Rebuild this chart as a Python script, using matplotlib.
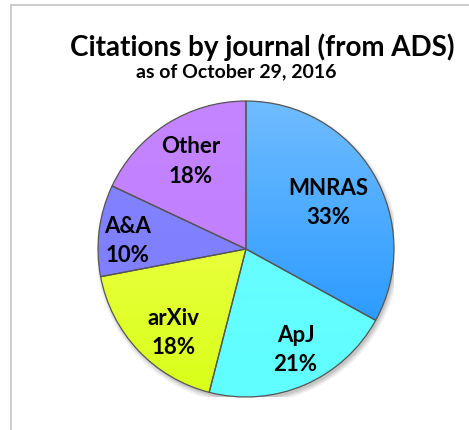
# Pie chart of citations by journal (from ADS), with soft vertical gradients
# on the wedges, like the original slide.

import matplotlib.pyplot as plt
import numpy as np
from matplotlib.colors import LinearSegmentedColormap
from matplotlib.lines import Line2D
from matplotlib.patches import Circle

# Data, clockwise from 12 o'clock.
journals = ["MNRAS", "ApJ", "arXiv", "A&A", "Other"]
shares = [33, 21, 18, 10, 18]

# Top / bottom colour of each wedge.
colors_top = ["#70bcff", "#6efcff", "#f8ff60", "#8585ff", "#c585ff"]
colors_bottom = ["#1590ff", "#60ffff", "#d8ff18", "#7c7cff", "#bc7cff"]

# Label placement: distance from the centre (fraction of radius) and a small
# angular nudge (degrees) away from the wedge's middle.
label_dist = [0.64, 0.76, 0.75, 0.80, 0.70]
label_nudge = [-1.4, 2.7, 6.0, 3.3, 0.0]

FONT = "Lato"


def main() -> None:
    fig_w_px, fig_h_px = 469, 430
    dpi = 100
    fig = plt.figure(figsize=(fig_w_px / dpi, fig_h_px / dpi), dpi=dpi)
    fig.patch.set_facecolor("white")

    # Thin grey frame at the top and the left.
    frame_kw = dict(color="#c8c8c8", linewidth=1.3, transform=fig.transFigure)
    y_top = 1 - 4.5 / fig_h_px
    x_left = 10.5 / fig_w_px
    fig.add_artist(Line2D([x_left, 1], [y_top, y_top], **frame_kw))
    fig.add_artist(Line2D([x_left, x_left], [0, y_top], **frame_kw))

    # Titles.
    fig.text(
        262 / fig_w_px, 1 - 56 / fig_h_px, "Citations by journal (from ADS)",
        ha="center", va="baseline", fontsize=20, fontweight="bold",
        family=FONT, color="black",
    )
    fig.text(
        236 / fig_w_px, 1 - 77 / fig_h_px, "as of October 29, 2016",
        ha="center", va="baseline", fontsize=14, fontweight="bold",
        family=FONT, color="black",
    )

    # Pie axes: centre at (246, 249) px, radius 148 px.
    cx, cy, r = 246, 430 - 249, 148
    ax = fig.add_axes(
        [(cx - r) / fig_w_px, (cy - r) / fig_h_px, 2 * r / fig_w_px, 2 * r / fig_h_px]
    )

    # Soft shadow behind the pie.
    for k, a in enumerate([0.06, 0.08, 0.10]):
        ax.add_patch(
            Circle((0.012, -0.022), 1.0 + 0.012 * (2 - k), color="black",
                   alpha=a, linewidth=0, zorder=0)
        )

    wedges, _ = ax.pie(
        shares,
        startangle=90,
        counterclock=False,
        radius=1.0,
        colors=colors_top,
        wedgeprops=dict(edgecolor="#555555", linewidth=0.9),
    )

    # Vertical gradient fill, clipped to each wedge.
    grad = np.linspace(0, 1, 256).reshape(-1, 1)
    for w, c_top, c_bot in zip(wedges, colors_top, colors_bottom):
        w.set_zorder(2)
        cmap = LinearSegmentedColormap.from_list("g", [c_top, c_bot])
        im = ax.imshow(
            grad, cmap=cmap, extent=(-1, 1, -1, 1), origin="upper",
            aspect="auto", zorder=1.5, interpolation="bilinear",
        )
        im.set_clip_path(w)
        w.set_facecolor("none")

    # Labels.
    for w, name, pct, d, nudge in zip(wedges, journals, shares, label_dist, label_nudge):
        ang = np.deg2rad((w.theta1 + w.theta2) / 2 + nudge)
        ax.text(
            d * np.cos(ang), d * np.sin(ang), f"{name}\n{pct}%",
            ha="center", va="center", fontsize=16, fontweight="bold",
            family=FONT, linespacing=1.5, zorder=3,
        )

    # pie() and imshow() both reset the limits, so set them last.
    ax.set_xlim(-1.0, 1.0)
    ax.set_ylim(-1.0, 1.0)
    ax.set_aspect("equal")
    ax.axis("off")

    fig.savefig("out.png", dpi=dpi)


if __name__ == "__main__":
    main()
